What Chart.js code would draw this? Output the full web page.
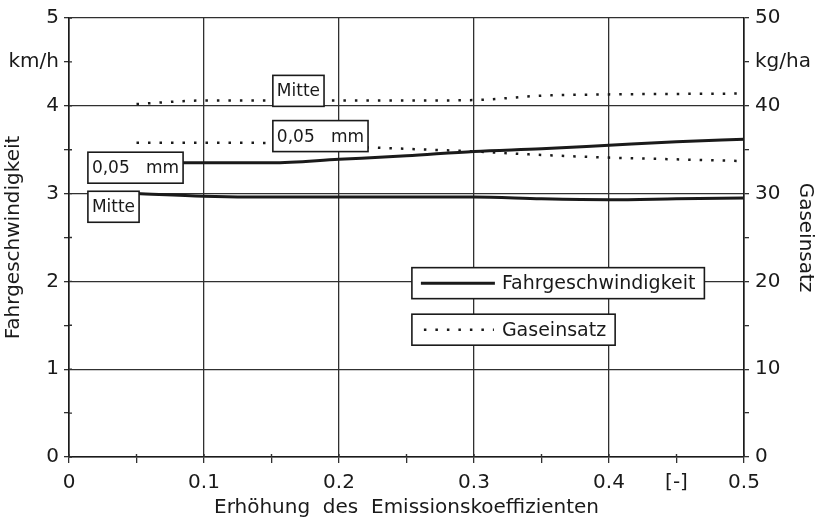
<!DOCTYPE html>
<html>
<head>
<meta charset="utf-8">
<script src="https://cdn.jsdelivr.net/npm/chart.js@4/dist/chart.umd.min.js"></script>
<style>
  html, body { margin: 0; padding: 0; background: #fff; }
  canvas { display: block; }
</style>
</head>
<body>
<canvas id="chart" width="819" height="521"></canvas>
<script>
// x positions of the readings (Erhöhung des Emissionskoeffizienten)
const xSteps = [0.05, 0.1, 0.15, 0.2, 0.25, 0.3, 0.35, 0.4, 0.45, 0.5];

// Fahrgeschwindigkeit, km/h
const speedMitte = [3.0, 2.97, 2.96, 2.96, 2.96, 2.96, 2.94, 2.93, 2.94, 2.95];
const speedFine = [3.35, 3.35, 3.35, 3.39, 3.43, 3.48, 3.51, 3.55, 3.59, 3.62];

// Gaseinsatz, kg/ha
const gasMitte = [40.2, 40.6, 40.6, 40.6, 40.6, 40.65, 41.15, 41.3, 41.35, 41.4];
const gasFine = [35.8, 35.8, 35.75, 35.4, 35.1, 34.8, 34.4, 34.1, 33.9, 33.7];

// tick labels
const xTickValues = [0, 0.1, 0.2, 0.3, 0.4, 0.45, 0.5];
const xTickTexts = ['0', '0.1', '0.2', '0.3', '0.4', '[-]', '0.5'];
const speedTickValues = [0, 1, 2, 3, 4, 4.5, 5];
const speedTickTexts = ['0', '1', '2', '3', '4', 'km/h', '5'];
const gasTickValues = [0, 10, 20, 30, 40, 45, 50];
const gasTickTexts = ['0', '10', '20', '30', '40', 'kg/ha', '50'];

// curve names written in boxes next to the lines
const curveNames = ['Mitte', '0,05   mm', '0,05   mm', 'Mitte'];
const legendNames = ['Fahrgeschwindigkeit', 'Gaseinsatz'];

const INK = '#1a1a1a';
const GRID = '#303030';
const FONT = '"DejaVu Sans", sans-serif';

Chart.defaults.font.family = FONT;
Chart.defaults.color = INK;

function pts(ys) {
  return ys.map((y, i) => ({ x: xSteps[i], y }));
}

function lookup(values, texts, v) {
  const i = values.findIndex(t => Math.abs(t - v) < 1e-6);
  return i < 0 ? '' : texts[i];
}

function isMultiple(v, step) {
  const r = v / step;
  return Math.abs(r - Math.round(r)) < 1e-6;
}

function drawBox(ctx, x, y, w, h) {
  ctx.fillStyle = '#fff';
  ctx.fillRect(x, y, w, h);
  ctx.strokeStyle = INK;
  ctx.lineWidth = 1.6;
  ctx.strokeRect(x, y, w, h);
}

// short tick stubs on the inner side of the bottom and left axes
const innerTickPlugin = {
  id: 'innerTicks',
  afterDraw(chart) {
    const { ctx, scales } = chart;
    ctx.save();
    ctx.strokeStyle = GRID;
    ctx.lineWidth = 1.4;
    ctx.beginPath();
    scales.x.ticks.forEach(t => {
      const px = scales.x.getPixelForValue(t.value);
      ctx.moveTo(px, scales.x.top);
      ctx.lineTo(px, scales.x.top - 3);
    });
    scales.ySpeed.ticks.forEach(t => {
      const py = scales.ySpeed.getPixelForValue(t.value);
      ctx.moveTo(scales.ySpeed.right, py);
      ctx.lineTo(scales.ySpeed.right + 3, py);
    });
    ctx.stroke();
    ctx.restore();
  }
};

// boxed names on the curves, anchored in data units (left edge, vertical centre)
const curveLabelPlugin = {
  id: 'curveLabels',
  afterDatasetsDraw(chart, args, opts) {
    const { ctx, scales } = chart;
    ctx.save();
    ctx.font = '17px ' + FONT;
    ctx.textBaseline = 'middle';
    opts.items.forEach((it, i) => {
      const text = curveNames[i];
      const left = scales.x.getPixelForValue(it.x);
      const cy = scales[it.axis].getPixelForValue(it.y);
      const w = ctx.measureText(text).width + 8;
      const h = 31;
      drawBox(ctx, left, cy - h / 2, w, h);
      ctx.fillStyle = INK;
      ctx.fillText(text, left + 4, cy + 1);
    });
    ctx.restore();
  }
};

// the two boxed legend entries inside the plot
const boxLegendPlugin = {
  id: 'boxLegend',
  afterDatasetsDraw(chart, args, opts) {
    const { ctx, scales } = chart;
    ctx.save();
    ctx.font = '19px ' + FONT;
    ctx.textBaseline = 'middle';
    opts.items.forEach((it, i) => {
      const text = legendNames[i];
      const left = scales.x.getPixelForValue(it.x);
      const cy = scales.ySpeed.getPixelForValue(it.y);
      const w = 90 + ctx.measureText(text).width + 9;
      const h = 31;
      drawBox(ctx, left, cy - h / 2, w, h);
      ctx.strokeStyle = INK;
      ctx.beginPath();
      if (it.dotted) {
        ctx.lineWidth = 2.5;
        ctx.setLineDash([2.5, 9]);
        ctx.moveTo(left + 12, cy);
        ctx.lineTo(left + 82, cy);
      } else {
        ctx.lineWidth = 3;
        ctx.moveTo(left + 9, cy);
        ctx.lineTo(left + 83, cy);
      }
      ctx.stroke();
      ctx.setLineDash([]);
      ctx.fillStyle = INK;
      ctx.fillText(text, left + 90, cy + 1);
    });
    ctx.restore();
  }
};

const solid = { borderColor: INK, borderWidth: 3, pointRadius: 0, cubicInterpolationMode: 'monotone', fill: false };
const dotted = { borderColor: INK, borderWidth: 2.5, borderDash: [2.5, 9], pointRadius: 0, cubicInterpolationMode: 'monotone', fill: false };

new Chart(document.getElementById('chart'), {
  type: 'line',
  data: {
    datasets: [
      { label: 'Fahrgeschwindigkeit Mitte', data: pts(speedMitte), yAxisID: 'ySpeed', ...solid },
      { label: 'Fahrgeschwindigkeit 0,05 mm', data: pts(speedFine), yAxisID: 'ySpeed', ...solid },
      { label: 'Gaseinsatz Mitte', data: pts(gasMitte), yAxisID: 'yGas', ...dotted },
      { label: 'Gaseinsatz 0,05 mm', data: pts(gasFine), yAxisID: 'yGas', ...dotted }
    ]
  },
  options: {
    responsive: false,
    animation: false,
    devicePixelRatio: 1,
    layout: { padding: { top: 16, left: 0, right: 0, bottom: 0 } },
    plugins: {
      legend: { display: false },
      tooltip: { enabled: false },
      curveLabels: {
        items: [
          { axis: 'yGas', x: 0.151, y: 41.7 },
          { axis: 'yGas', x: 0.151, y: 36.55 },
          { axis: 'ySpeed', x: 0.014, y: 3.295 },
          { axis: 'ySpeed', x: 0.014, y: 2.85 }
        ]
      },
      boxLegend: {
        items: [
          { x: 0.254, y: 1.98, dotted: false },
          { x: 0.254, y: 1.45, dotted: true }
        ]
      }
    },
    scales: {
      x: {
        type: 'linear',
        min: 0,
        max: 0.5,
        afterFit: s => { s.height = 64; },
        border: { color: INK, width: 1.6 },
        grid: {
          color: c => isMultiple(c.tick.value, 0.1) ? GRID : 'rgba(0,0,0,0)',
          tickColor: GRID,
          lineWidth: 1.3,
          tickLength: 6
        },
        ticks: {
          stepSize: 0.05,
          autoSkip: false,
          maxRotation: 0,
          padding: 8,
          font: { size: 20 },
          callback: v => lookup(xTickValues, xTickTexts, v)
        },
        title: {
          display: true,
          text: 'Erhöhung  des  Emissionskoeffizienten',
          font: { size: 20 },
          padding: { top: 0, bottom: 1 }
        }
      },
      ySpeed: {
        type: 'linear',
        position: 'left',
        min: 0,
        max: 5,
        afterFit: s => { s.width = 69; },
        border: { color: INK, width: 1.6 },
        grid: {
          color: c => isMultiple(c.tick.value, 1) ? GRID : 'rgba(0,0,0,0)',
          tickColor: GRID,
          lineWidth: 1.3,
          tickLength: 5
        },
        ticks: {
          stepSize: 0.5,
          autoSkip: false,
          padding: 5,
          font: { size: 20 },
          callback: v => lookup(speedTickValues, speedTickTexts, v)
        },
        title: {
          display: true,
          text: 'Fahrgeschwindigkeit',
          font: { size: 20 },
          padding: { top: 2, bottom: 0 }
        }
      },
      yGas: {
        type: 'linear',
        position: 'right',
        min: 0,
        max: 50,
        afterFit: s => { s.width = 75; },
        border: { color: INK, width: 1.6 },
        grid: {
          drawOnChartArea: false,
          tickColor: GRID,
          lineWidth: 1.3,
          tickLength: 5
        },
        ticks: {
          stepSize: 5,
          autoSkip: false,
          padding: 6,
          font: { size: 20 },
          callback: v => lookup(gasTickValues, gasTickTexts, v)
        },
        title: {
          display: true,
          text: 'Gaseinsatz',
          font: { size: 20 },
          padding: { top: 2, bottom: 0 }
        }
      }
    }
  },
  plugins: [innerTickPlugin, curveLabelPlugin, boxLegendPlugin]
});
</script>
</body>
</html>
